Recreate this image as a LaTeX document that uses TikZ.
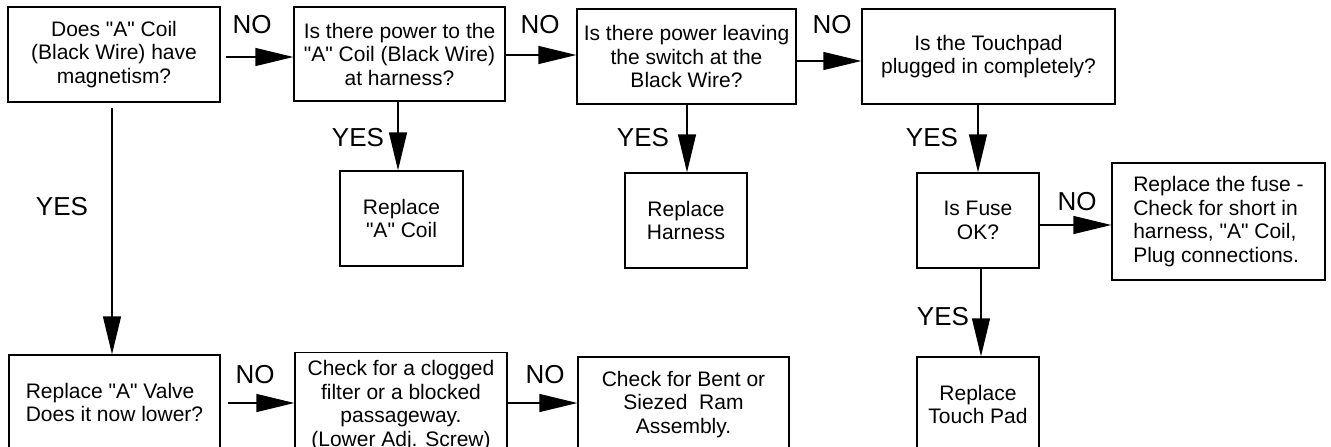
\documentclass[tikz,border=0pt]{standalone}
\usepackage{fontspec}
\setmainfont{Liberation Sans}[Ligatures=TeXOff]
\usetikzlibrary{arrows.meta}
\begin{document}
\begin{tikzpicture}[x=1pt,y=-1pt,
  box/.style={draw,line width=1.3pt,minimum width=#1,inner sep=0pt,align=center,font=\fontsize{21}{23.5}\selectfont},
  lbl/.style={font=\fontsize{26}{28}\selectfont,inner sep=0pt},
  arr/.style={line width=1.3pt,-{Triangle[length=38pt,width=18pt]}}]
\useasboundingbox (0,0) rectangle (1331,447);
\clip (0,0) rectangle (1331,447);
\node[box=212pt,minimum height=95pt] (A) at (114,54.5) {Does "A" Coil\\(Black Wire) have\\magnetism?};
\node[box=211pt,minimum height=94pt] (B) at (399.5,54) {Is there power to the\\"A" Coil (Black Wire)\\at harness?};
\node[box=219pt,minimum height=95pt] (C) at (686.5,56.5) {Is there power leaving\\the switch at the\\Black Wire?};
\node[box=253pt,minimum height=95pt] (D) at (988.5,56.5) {Is the Touchpad\\plugged in completely?};
\node[box=123pt,minimum height=95pt] (AC) at (401.5,218.5) {Replace\\"A" Coil};
\node[box=122pt,minimum height=95pt] (H) at (686,220.5) {Replace\\Harness};
\node[box=122pt,minimum height=95pt] (F) at (978,220.5) {Is Fuse\\OK?};
\node[box=213pt,minimum height=117pt,align=left] (RF) at (1218.5,221.5) {Replace the fuse -\\Check for short in\\harness, "A" Coil,\\Plug connections.};
\node[box=122pt,minimum height=95pt] (TP) at (978,404.5) {Replace\\Touch Pad};
\node[box=211pt,minimum height=95pt,align=left] (V) at (114.5,402.5) {Replace "A" Valve\\Does it now lower?};
\node[box=212pt,minimum height=95pt] (CK) at (401,401.5) {\rule{0pt}{23pt}Check for a clogged\\filter or a blocked\\passageway.\\(Lower Adj. Screw)};
\node[box=211pt,minimum height=95pt] (R) at (683.5,404.5) {Check for Bent or\\Siezed\ \ Ram\\Assembly.};
% connectors
\draw[arr,shorten <=5pt] (A.east |- 0,57) -- (B.west |- 0,57);
\draw[arr] (B.east |- 0,55) -- (C.west |- 0,55);
\draw[arr] (C.east |- 0,61) -- (D.west |- 0,61);
\draw[arr,shorten <=5pt] (A.south -| 112,0) -- (V.north -| 112,0);
\draw[arr] (B.south -| 398,0) -- (AC.north -| 398,0);
\draw[arr] (C.south -| 687,0) -- (H.north -| 687,0);
\draw[arr] (D.south -| 978,0) -- (F.north -| 978,0);
\draw[arr] (F.south -| 981,0) -- (TP.north -| 981,0);
\draw[arr] (F.east |- 0,225) -- (RF.west |- 0,225);
\draw[arr,shorten <=7pt] (V.east |- 0,403) -- (CK.west |- 0,403);
\draw[arr] (CK.east |- 0,403) -- (R.west |- 0,403);
% labels
\node[lbl] (n1) at (252,25) {NO};
\node[lbl] (n2) at (540,25) {NO};
\node[lbl] (n3) at (832,25) {NO};
\node[lbl] (n4) at (1077,202) {NO};
\node[lbl] (n5) at (255,375) {NO};
\node[lbl] (n6) at (545,375) {NO};
\node[lbl] (y1) at (62,207) {YES};
\node[lbl] (y2) at (358,138) {YES};
\node[lbl] (y3) at (643,138) {YES};
\node[lbl] (y4) at (932,138) {YES};
\node[lbl] (y5) at (943,317) {YES};
\end{tikzpicture}
\end{document}
